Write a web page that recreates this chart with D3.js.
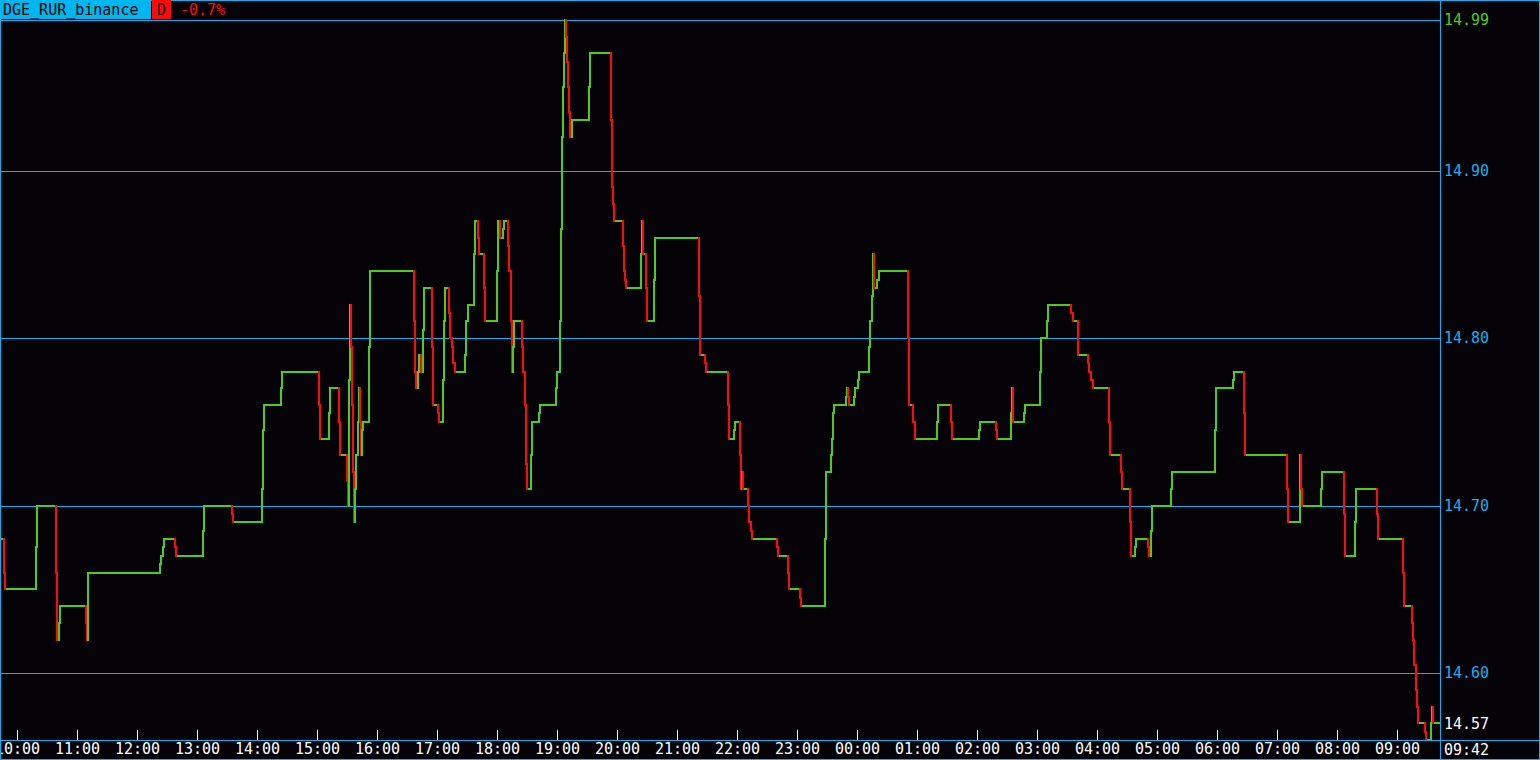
<!DOCTYPE html>
<html><head><meta charset="utf-8">
<script src="https://cdn.jsdelivr.net/npm/d3@7"></script>
<style>html,body{margin:0;padding:0;background:#050308;overflow:hidden}</style>
</head><body><svg id="c" width="1540" height="760"></svg>
<script>
// ---- data ----
const symbol = "DGE_RUR_binance";
const periodLabel = "D";
const changeText = "-0.7%";
const endLabel = "09:42";
// minutes after 09:43 (window start) at which the price changed
const minutes = [0,4,5,36,37,56,57,59,60,86,87,88,160,161,163,164,175,176,203,204,232,233,262,263,264,281,282,319,320,329,330,339,340,347,348,349,350,351,352,353,354,355,356,358,359,360,361,362,363,369,370,414,415,416,418,419,421,423,424,432,433,438,439,443,444,445,449,450,452,453,455,465,466,468,474,475,478,479,484,485,497,498,500,503,504,508,509,511,512,513,514,522,523,525,526,527,531,532,539,540,556,557,560,561,562,563,564,565,566,567,568,569,570,572,589,590,611,612,613,614,623,624,625,626,641,642,643,646,647,654,655,699,700,705,706,728,729,734,735,740,741,742,743,748,749,751,752,777,778,788,789,800,801,825,826,831,832,833,834,846,847,848,849,854,855,858,859,869,870,872,873,874,877,879,908,909,913,915,937,938,951,952,979,980,996,997,1011,1012,1013,1024,1025,1040,1041,1047,1048,1071,1073,1078,1088,1089,1091,1093,1109,1110,1121,1122,1130,1131,1135,1136,1148,1149,1151,1152,1171,1172,1215,1216,1233,1234,1244,1245,1287,1288,1300,1301,1302,1321,1322,1344,1345,1355,1356,1377,1378,1403,1404,1412,1413,1414,1416,1417,1418,1425,1426,1431,1432,1433,1440];
const prices = [14.68,14.66,14.65,14.675,14.70,14.66,14.62,14.63,14.64,14.63,14.62,14.66,14.665,14.67,14.675,14.68,14.675,14.67,14.685,14.70,14.695,14.69,14.71,14.745,14.76,14.77,14.78,14.76,14.74,14.755,14.77,14.75,14.73,14.715,14.70,14.775,14.82,14.795,14.76,14.72,14.69,14.71,14.73,14.75,14.77,14.75,14.73,14.745,14.75,14.795,14.84,14.81,14.78,14.77,14.78,14.79,14.78,14.805,14.83,14.795,14.76,14.755,14.75,14.775,14.81,14.83,14.815,14.80,14.795,14.785,14.78,14.79,14.81,14.82,14.85,14.87,14.86,14.85,14.83,14.81,14.84,14.87,14.86,14.865,14.87,14.855,14.84,14.81,14.78,14.795,14.81,14.795,14.78,14.76,14.725,14.71,14.73,14.75,14.755,14.76,14.77,14.78,14.81,14.865,14.92,14.95,14.97,14.99,14.98,14.965,14.95,14.935,14.92,14.93,14.95,14.97,14.93,14.89,14.88,14.87,14.855,14.84,14.835,14.83,14.85,14.87,14.85,14.83,14.81,14.835,14.86,14.825,14.79,14.785,14.78,14.76,14.74,14.745,14.75,14.73,14.71,14.72,14.71,14.70,14.69,14.685,14.68,14.675,14.67,14.66,14.65,14.645,14.64,14.68,14.72,14.73,14.74,14.755,14.76,14.765,14.77,14.765,14.76,14.765,14.77,14.775,14.78,14.795,14.81,14.825,14.85,14.83,14.835,14.84,14.80,14.76,14.75,14.74,14.75,14.76,14.75,14.74,14.745,14.75,14.745,14.74,14.755,14.77,14.75,14.755,14.76,14.78,14.80,14.81,14.82,14.815,14.81,14.79,14.785,14.78,14.775,14.77,14.75,14.73,14.72,14.71,14.69,14.67,14.675,14.68,14.675,14.67,14.685,14.70,14.71,14.72,14.745,14.77,14.775,14.78,14.755,14.73,14.71,14.69,14.73,14.71,14.70,14.71,14.72,14.695,14.67,14.69,14.71,14.695,14.68,14.66,14.64,14.63,14.62,14.605,14.59,14.58,14.57,14.565,14.56,14.57,14.58,14.57,14.57];
const gridTicks = [14.90, 14.80, 14.70, 14.60];
const highPrice = 14.99, lastPrice = 14.57, lowPrice = 14.56;

// ---- layout ----
const W = 1540, H = 760, plotR = 1440, plotT = 20, plotB = 740;
const CYAN = "#0fb0ee", LBL = "#1aaeef", GREEN = "#4fcb1e", RED = "#ff0a0a", BG = "#050308";
const FONT = "'DejaVu Sans Mono', 'Liberation Mono', monospace";

const svg = d3.select("#c");
svg.append("rect").attr("width", W).attr("height", H).attr("fill", BG);

const t0 = new Date(2024, 0, 1, 9, 43);
const toDate = m => new Date(t0.getTime() + m * 60000);
const x = d3.scaleTime().domain([t0, toDate(1440)]).range([0, plotR]);
const y = d3.scaleLinear().domain([lowPrice, highPrice]).range([plotB, plotT]);

// grid lines via axis
const gridAxis = d3.axisLeft(y).tickValues([highPrice, ...gridTicks]).tickSize(-plotR).tickFormat("");
const g = svg.append("g").call(gridAxis);
g.select(".domain").remove();
g.selectAll("line").attr("stroke", CYAN).attr("stroke-width", 1).attr("shape-rendering", "crispEdges");

// price step line
svg.append("clipPath").attr("id", "pc").append("rect")
  .attr("x", 0).attr("y", plotT - 2).attr("width", plotR).attr("height", plotB - plotT + 2);
const lg = svg.append("g").attr("clip-path", "url(#pc)").attr("shape-rendering", "crispEdges");
const pts = minutes.map((m, i) => ({ t: toDate(m), p: prices[i] }));
const hs = [], vs = [];
const px = v => Math.round(v), py = v => Math.round(v);
for (let i = 1; i < pts.length; i++) {
  hs.push({ x1: px(x(pts[i - 1].t)), x2: px(x(pts[i].t)), y: py(y(pts[i - 1].p)) });
  if (pts[i].p !== pts[i - 1].p)
    vs.push({ x: px(x(pts[i].t)), y1: py(y(pts[i - 1].p)), y2: py(y(pts[i].p)), up: pts[i].p > pts[i - 1].p });
}
lg.selectAll("rect.h").data(hs).join("rect").attr("class", "h")
  .attr("x", d => d.x1 - 1).attr("width", d => d.x2 - d.x1 + 2).attr("y", d => d.y - 1).attr("height", 2)
  .attr("fill", GREEN);
lg.selectAll("rect.v").data(vs).join("rect").attr("class", "v")
  .attr("x", d => d.x - 1).attr("width", 2)
  .attr("y", d => Math.min(d.y1, d.y2) - 1).attr("height", d => Math.abs(d.y2 - d.y1) + 2)
  .attr("fill", d => d.up ? GREEN : RED);

// right price labels
const yl = svg.append("g").attr("font-family", FONT).attr("font-size", 15);
const labels = [
  { v: highPrice, c: GREEN },
  ...gridTicks.map(v => ({ v, c: LBL })),
  { v: lastPrice, c: "#ffffff" }
];
yl.selectAll("text").data(labels).join("text")
  .attr("x", 1444).attr("y", d => y(d.v)).attr("dy", "0.35em")
  .attr("fill", d => d.c).text(d => d.v.toFixed(2));
svg.append("clipPath").attr("id", "lc").append("rect").attr("x", 1441).attr("y", 700).attr("width", 99).attr("height", 35);
svg.append("text").attr("clip-path", "url(#lc)").attr("font-family", FONT).attr("font-size", 15)
  .attr("x", 1444).attr("y", y(lowPrice) + 2).attr("dy", "0.35em").attr("fill", RED).text(lowPrice.toFixed(2));

// bottom time axis
const xAxis = d3.axisBottom(x).ticks(d3.timeHour.every(1)).tickSize(10).tickPadding(3)
  .tickFormat(d3.timeFormat("%H:%M"));
const xg = svg.append("g").attr("transform", `translate(0,${plotB - 10})`).call(xAxis);
xg.select(".domain").remove();
xg.selectAll("line").attr("stroke", "#ffffff").attr("shape-rendering", "crispEdges");
xg.selectAll("text").attr("fill", "#ffffff").attr("font-family", FONT).attr("font-size", 15);
svg.append("text").attr("x", 1444).attr("y", 750).attr("dy", "0.35em").attr("fill", "#ffffff")
  .attr("font-family", FONT).attr("font-size", 15).text(endLabel);

// frame lines
const fr = svg.append("g").attr("stroke", CYAN).attr("stroke-width", 1).attr("shape-rendering", "crispEdges");
fr.append("line").attr("x1", 0).attr("x2", W).attr("y1", plotB + 0.5).attr("y2", plotB + 0.5);
fr.append("line").attr("x1", 0).attr("x2", W).attr("y1", H - 0.5).attr("y2", H - 0.5);
fr.append("line").attr("x1", 0).attr("x2", W).attr("y1", 0.5).attr("y2", 0.5);
fr.append("line").attr("x1", plotR + 0.5).attr("x2", plotR + 0.5).attr("y1", 0).attr("y2", H);
fr.append("line").attr("x1", 0.5).attr("x2", 0.5).attr("y1", 0).attr("y2", H);
fr.append("line").attr("x1", W - 0.5).attr("x2", W - 0.5).attr("y1", 0).attr("y2", H);

// header
const hd = svg.append("g").attr("font-family", FONT).attr("font-size", 15);
hd.append("rect").attr("x", 0).attr("y", 0).attr("width", 151).attr("height", 19).attr("fill", "#00b6f0");
hd.append("text").attr("x", 3).attr("y", 15).attr("fill", "#000").text(symbol);
hd.append("rect").attr("x", 152).attr("y", 0).attr("width", 19).attr("height", 19).attr("fill", RED);
hd.append("text").attr("x", 157).attr("y", 15).attr("fill", "#000").text(periodLabel);
hd.append("text").attr("x", 180).attr("y", 15).attr("fill", RED).text(changeText);
</script></body></html>
